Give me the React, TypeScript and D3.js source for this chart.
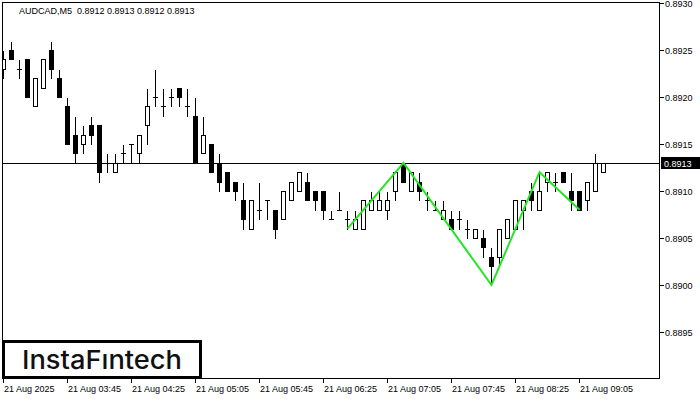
import React from "react";
import * as d3 from "d3";

// AUDCAD M5, 76 bars (4 digits)
const opens = [
  0.8923, 0.8925, 0.8923, 0.8924, 0.8919, 0.8921, 0.8925, 0.8922, 0.8919, 0.8916,
  0.8915, 0.8917, 0.8917, 0.8913, 0.8912, 0.8914, 0.8915, 0.8914, 0.8917, 0.892,
  0.8919, 0.892, 0.8921, 0.8919, 0.8918, 0.8914, 0.8915, 0.8913, 0.8912, 0.8911,
  0.8909, 0.8906, 0.8908, 0.8909, 0.8908, 0.8907, 0.8909, 0.891, 0.8911, 0.891,
  0.891, 0.8907, 0.8908, 0.8907, 0.8906, 0.8906, 0.8908, 0.8908, 0.8908, 0.891,
  0.8913, 0.891, 0.8911, 0.8909, 0.8908, 0.8907, 0.8907, 0.8907, 0.8906, 0.8905,
  0.8905, 0.8903, 0.8903, 0.8905, 0.8906, 0.8908, 0.891, 0.8908, 0.8911, 0.8911,
  0.8912, 0.891, 0.891, 0.8909, 0.891, 0.8912,
];
const highs = [
  0.8925, 0.8926, 0.8924, 0.8924, 0.8922, 0.8924, 0.8926, 0.8923, 0.892, 0.8918,
  0.8917, 0.8918, 0.8917, 0.8914, 0.8914, 0.8915, 0.8915, 0.8916, 0.8921, 0.8923,
  0.8921, 0.8921, 0.8921, 0.8921, 0.892, 0.8918, 0.8915, 0.8914, 0.8912, 0.8911,
  0.8911, 0.8909, 0.8911, 0.8909, 0.8908, 0.891, 0.8911, 0.8912, 0.8912, 0.891,
  0.891, 0.8908, 0.891, 0.8908, 0.8908, 0.8909, 0.891, 0.891, 0.891, 0.8912,
  0.8913, 0.8912, 0.8912, 0.891, 0.8909, 0.8909, 0.8908, 0.8908, 0.8907, 0.8906,
  0.8906, 0.8904, 0.8906, 0.8907, 0.8909, 0.8909, 0.8911, 0.8912, 0.8912, 0.8912,
  0.8912, 0.8912, 0.891, 0.8911, 0.8914, 0.8913,
];
const lows = [
  0.8922, 0.8924, 0.8922, 0.892, 0.8919, 0.8921, 0.8922, 0.892, 0.8915, 0.8913,
  0.8914, 0.8915, 0.8911, 0.8912, 0.8912, 0.8913, 0.8913, 0.8913, 0.8915, 0.8919,
  0.8918, 0.8919, 0.8919, 0.8918, 0.8913, 0.8914, 0.8912, 0.891, 0.891, 0.8909,
  0.8906, 0.8906, 0.8907, 0.8907, 0.8905, 0.8907, 0.8909, 0.891, 0.8909, 0.8908,
  0.8907, 0.8907, 0.8908, 0.8906, 0.8906, 0.8906, 0.8908, 0.8908, 0.8907, 0.8909,
  0.8911, 0.891, 0.8909, 0.8908, 0.8908, 0.8907, 0.8906, 0.8906, 0.8905, 0.8905,
  0.8903, 0.89, 0.8902, 0.8905, 0.8906, 0.8906, 0.8908, 0.8908, 0.891, 0.891,
  0.8911, 0.8908, 0.8908, 0.8908, 0.891, 0.8912,
];
const closes = [
  0.8924, 0.8924, 0.8923, 0.892, 0.8922, 0.8924, 0.8923, 0.892, 0.8915, 0.8914,
  0.8916, 0.8916, 0.8912, 0.8913, 0.8913, 0.8914, 0.8915, 0.8916, 0.8919, 0.892,
  0.8919, 0.892, 0.892, 0.8919, 0.8913, 0.8916, 0.8912, 0.8911, 0.891, 0.891,
  0.8907, 0.8909, 0.8908, 0.8909, 0.8906, 0.891, 0.8911, 0.8912, 0.8909, 0.8909,
  0.8908, 0.8907, 0.8908, 0.8907, 0.8907, 0.8909, 0.8909, 0.8909, 0.8909, 0.8912,
  0.8911, 0.8912, 0.891, 0.8909, 0.8908, 0.8908, 0.8906, 0.8907, 0.8906, 0.8906,
  0.8904, 0.8902, 0.8906, 0.8907, 0.8909, 0.8909, 0.8909, 0.891, 0.8912, 0.8911,
  0.8911, 0.8909, 0.8908, 0.8911, 0.8913, 0.8913,
];

// time axis: one label every 8 bars
const timeTickIdx = [0, 8, 16, 24, 32, 40, 48, 56, 64, 72];
const timeTickLabels = [
  "21 Aug 2025", "21 Aug 03:45", "21 Aug 04:25", "21 Aug 05:05", "21 Aug 05:45",
  "21 Aug 06:25", "21 Aug 07:05", "21 Aug 07:45", "21 Aug 08:25", "21 Aug 09:05",
];
const priceTicks = [0.893, 0.8925, 0.892, 0.8915, 0.891, 0.8905, 0.89, 0.8895];

// inverse head & shoulders outline (bar index, price)
const patternIdx = [43, 50, 61, 67, 72];
const patternPrice = [0.8906, 0.8913, 0.89, 0.8912, 0.8908];

const lastPrice = 0.8913;
const header = "AUDCAD,M5  0.8912 0.8913 0.8912 0.8913";

const W = 700;
const H = 400;
const frame = { left: 2.5, right: 659.5, top: 2.5, bottom: 378.5 };
const font = "'Liberation Sans', Arial, sans-serif";

export default function App() {
  const x = d3.scaleLinear().domain([0, 75]).range([3, 603]);
  const y = d3.scaleLinear().domain([0.89, 0.893]).range([285, 3]);
  const px = (i: number) => Math.round(x(i));
  const py = (v: number) => Math.round(y(v)) + 0.5;

  const pattern = d3
    .line<number>()
    .x((i) => x(patternIdx[i]) + 0.5)
    .y((i) => y(patternPrice[i]))(d3.range(patternIdx.length));

  return (
    <div style={{ position: "absolute", left: 0, top: 0, width: W, height: H, background: "#fff" }}>
      <svg width={W} height={H} style={{ display: "block" }}>
        <defs>
          <clipPath id="plot">
            <rect x={frame.left} y={frame.top} width={frame.right - frame.left} height={frame.bottom - frame.top} />
          </clipPath>
        </defs>
        <rect width={W} height={H} fill="#fff" />

        <text x={19} y={14} fontFamily={font} fontSize={9} fill="#000" style={{ whiteSpace: "pre" }}>
          {header}
        </text>

        <g clipPath="url(#plot)" shapeRendering="crispEdges">
          {opens.map((o, i) => {
            const c = closes[i];
            const cx = px(i);
            const top = py(Math.max(o, c));
            const bot = py(Math.min(o, c));
            const bull = c >= o;
            return (
              <g key={i}>
                <line x1={cx + 0.5} x2={cx + 0.5} y1={py(highs[i])} y2={py(lows[i])} stroke="#000" />
                {top === bot ? (
                  <line x1={cx - 2} x2={cx + 3} y1={top} y2={top} stroke="#000" />
                ) : (
                  <rect
                    x={cx - 1.5}
                    y={top}
                    width={4}
                    height={bot - top}
                    fill={bull ? "#fff" : "#000"}
                    stroke="#000"
                  />
                )}
              </g>
            );
          })}
          <line x1={frame.left} x2={frame.right} y1={py(lastPrice)} y2={py(lastPrice)} stroke="#000" />
        </g>

        <path d={pattern ?? ""} fill="none" stroke="#22e622" strokeWidth={2} clipPath="url(#plot)" />

        <rect
          x={frame.left}
          y={frame.top}
          width={frame.right - frame.left}
          height={frame.bottom - frame.top}
          fill="none"
          stroke="#000"
          shapeRendering="crispEdges"
        />

        {/* price axis */}
        {priceTicks.map((t) => (
          <g key={t}>
            <line x1={frame.right} x2={frame.right + 4} y1={py(t)} y2={py(t)} stroke="#000" shapeRendering="crispEdges" />
            <text x={665} y={py(t) + 3} fontFamily={font} fontSize={9} fill="#000">
              {d3.format(".4f")(t)}
            </text>
          </g>
        ))}
        <rect x={661} y={py(lastPrice) - 6.5} width={39} height={12} fill="#000" />
        <text x={664} y={py(lastPrice) + 3} fontFamily={font} fontSize={9} fill="#fff">
          {d3.format(".4f")(lastPrice)}
        </text>

        {/* time axis */}
        {timeTickIdx.map((idx, k) => (
          <g key={idx}>
            <line x1={px(idx) + 0.5} x2={px(idx) + 0.5} y1={frame.bottom} y2={frame.bottom + 4} stroke="#000" shapeRendering="crispEdges" />
            <text x={px(idx) + 1} y={392} fontFamily={font} fontSize={9} fill="#000">
              {timeTickLabels[k]}
            </text>
          </g>
        ))}

        {/* logo */}
        <rect x={3.5} y={341.5} width={197} height={36} fill="#fff" stroke="#000" strokeWidth={3} />
        <text
          x={22}
          y={369}
          fontFamily="Inter, 'Noto Sans', sans-serif"
          fontWeight={500}
          fontSize={26}
          textLength={160}
          lengthAdjust="spacingAndGlyphs"
          fill="#111"
        >
          InstaFıntech
        </text>
      </svg>
    </div>
  );
}
